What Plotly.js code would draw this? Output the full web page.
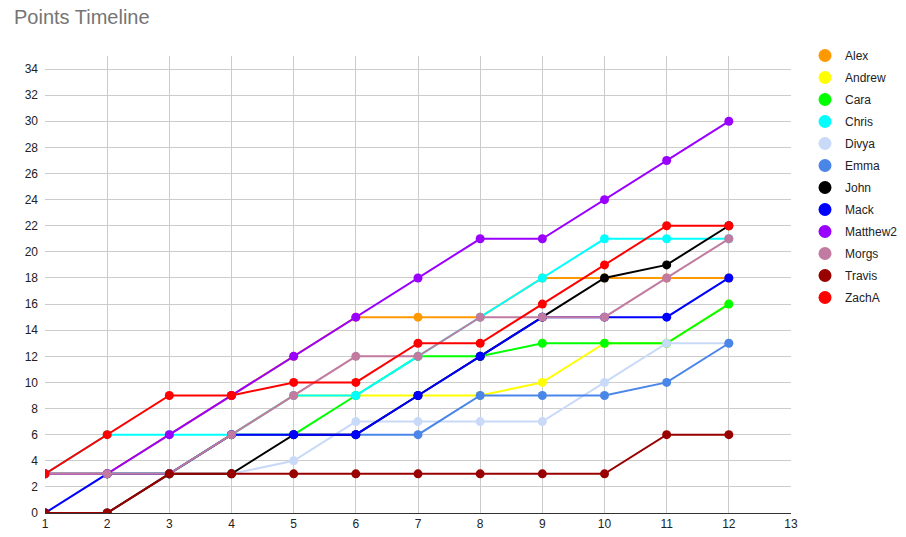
<!DOCTYPE html>
<html>
<head>
<meta charset="utf-8">
<script src="https://cdn.plot.ly/plotly-3.0.1.min.js"></script>
<style>html,body{margin:0;padding:0;background:#fff;}#chart{width:906px;height:537px;}</style>
</head>
<body>
<div id="chart"></div>
<script>
const days = [1,2,3,4,5,6,7,8,9,10,11,12];
const names = ["Alex","Andrew","Cara","Chris","Divya","Emma","John","Mack","Matthew2","Morgs","Travis","ZachA"];
const colors = ["#ff9900","#ffff00","#00ff00","#00ffff","#c9daf8","#4a86e8","#000000","#0000ff","#9900ff","#c27ba0","#990000","#ff0000"];
const alex     = [3,3,6,9,12,15,15,15,18,18,18,18];
const andrew   = [3,3,3,6,9,9,9,9,10,13,13,16];
const cara     = [3,3,3,6,6,9,12,12,13,13,13,16];
const chris    = [3,6,6,6,9,9,12,15,18,21,21,21];
const divya    = [3,3,3,3,4,7,7,7,7,10,13,13];
const emma     = [3,3,3,6,6,6,6,9,9,9,10,13];
const john     = [0,0,3,3,6,6,9,12,15,18,19,22];
const mack     = [0,3,3,6,6,6,9,12,15,15,15,18];
const matthew2 = [3,3,6,9,12,15,18,21,21,24,27,30];
const morgs    = [3,3,3,6,9,12,12,15,15,15,18,21];
const travis   = [0,0,3,3,3,3,3,3,3,3,6,6];
const zacha    = [3,6,9,9,10,10,13,13,16,19,22,22];
const series = [alex,andrew,cara,chris,divya,emma,john,mack,matthew2,morgs,travis,zacha];

const traces = [];
series.forEach((vals,i)=>{
  traces.push({x:days,y:vals,name:names[i],type:'scatter',mode:'lines+markers',
    line:{color:colors[i],width:2},marker:{color:colors[i],size:9},showlegend:false,hoverinfo:'x+y+name'});
});
series.forEach((vals,i)=>{
  traces.push({x:[null],y:[null],name:names[i],type:'scatter',mode:'markers',
    marker:{color:colors[i],size:13},legendgroup:'g'+i,showlegend:true});
});

const layout = {
  width:906,height:537,
  margin:{l:45,r:115,t:56,b:24,autoexpand:false},
  paper_bgcolor:'#fff',plot_bgcolor:'#fff',
  font:{family:'Liberation Sans, Arial, sans-serif',size:12,color:'#222'},
  title:{text:'Points Timeline',x:14/906,xref:'container',xanchor:'left',y:1-10/537,yref:'container',yanchor:'top',
    font:{family:'Liberation Sans, Arial, sans-serif',size:20,color:'#757575'}},
  xaxis:{range:[1,13],dtick:1,tick0:1,showgrid:true,gridcolor:'#cccccc',gridwidth:1,zeroline:false,
    showline:true,linecolor:'#333',linewidth:1,ticks:'',tickfont:{size:12,color:'#222'}},
  yaxis:{range:[0,35],dtick:2,tick0:0,showgrid:true,gridcolor:'#cccccc',gridwidth:1,zeroline:false,
    showline:false,ticks:'',tickfont:{size:12,color:'#222'},ticklabelstandoff:6},
  legend:{x:(805-45)/746,xanchor:'left',y:1+15/457,yanchor:'top',traceorder:'grouped',tracegroupgap:3,
    font:{size:12,color:'#222'},itemwidth:30,bgcolor:'rgba(0,0,0,0)',maxheight:1},
  hovermode:'closest'
};
Plotly.newPlot('chart',traces,layout,{displayModeBar:false,responsive:false});
</script>
</body>
</html>
